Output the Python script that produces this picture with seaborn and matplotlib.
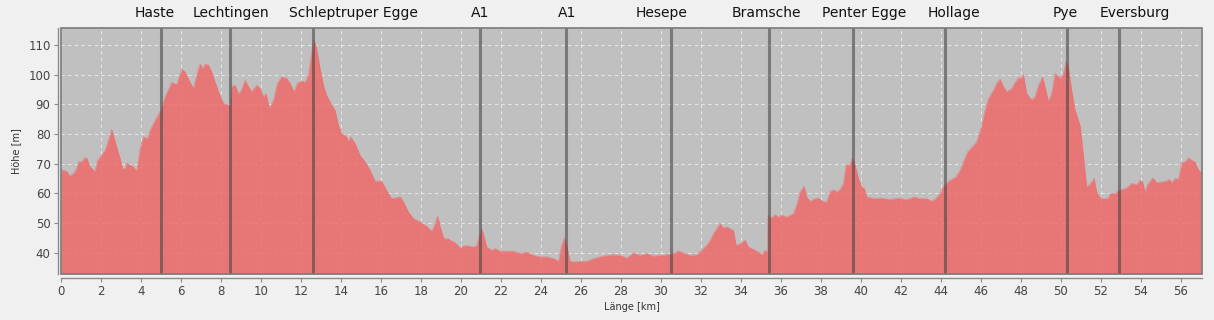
import matplotlib
matplotlib.use("Agg")
import matplotlib.pyplot as plt
import matplotlib.transforms as mtransforms
from matplotlib.patches import Rectangle
import seaborn as sns
import pandas as pd

# ---- data ----
distance_km = [
    0.0, 0.28, 0.42, 0.62, 0.78, 0.87, 1.03, 1.2, 1.28, 1.45, 1.7, 1.82, 2.03, 2.2, 2.37, 2.53,
    2.78, 2.95, 3.08, 3.2, 3.28, 3.45, 3.62, 3.78, 3.95, 4.12, 4.32, 4.45, 4.7, 4.95, 5.2, 5.53,
    5.78, 6.03, 6.2, 6.45,
    6.62, 6.78, 6.95, 7.08, 7.2, 7.37, 7.53, 7.7, 7.87, 8.12, 8.32, 8.45, 8.53, 8.7, 8.87, 8.98,
    9.2, 9.37, 9.53, 9.78, 9.95, 10.12, 10.25, 10.42, 10.62, 10.82, 11.03, 11.28, 11.45, 11.65,
    11.82, 12.03, 12.2, 12.37, 12.53, 12.65, 12.78,
    12.95, 13.12, 13.28, 13.53, 13.7, 13.87, 14.03, 14.28, 14.37, 14.48, 14.7, 14.95, 15.2, 15.45,
    15.7, 16.03, 16.28, 16.53, 16.95, 17.12, 17.37, 17.62, 17.95, 18.28, 18.53, 18.7, 18.83,
    18.98, 19.15, 19.37,
    19.45, 19.7, 19.95, 20.12, 20.37, 20.62, 20.78, 20.92, 21.0, 21.12, 21.28, 21.53, 21.7,
    21.95, 22.28, 22.62, 22.95, 23.28, 23.62, 23.95, 24.28, 24.62, 24.87, 25.03, 25.17, 25.28,
    25.45, 25.7,
    25.95, 26.28, 26.62, 26.95, 27.28, 27.62, 27.95, 28.28, 28.62, 28.95, 29.28, 29.62, 29.95,
    30.28, 30.62, 30.87, 31.2, 31.45, 31.78, 32.03, 32.28,
    32.45, 32.62, 32.78, 32.95, 33.12, 33.28, 33.45, 33.62, 33.75, 33.95, 34.2, 34.37, 34.62,
    34.87, 35.03, 35.2, 35.32, 35.35, 35.53, 35.7, 35.87, 36.03, 36.28, 36.62, 36.78, 36.95,
    37.15, 37.28, 37.45, 37.7, 37.87, 38.12, 38.28, 38.45, 38.62, 38.78,
    38.95, 39.12, 39.25, 39.42, 39.58, 39.7, 39.87, 40.03, 40.15, 40.28, 40.53, 40.7, 40.95,
    41.2, 41.45, 41.7, 41.95, 42.2, 42.45, 42.65, 42.95, 43.28, 43.53, 43.7, 43.95, 44.15,
    44.45, 44.75, 44.95, 45.15, 45.32,
    45.45, 45.78, 46.03, 46.2, 46.37, 46.62, 46.78, 46.95, 47.12, 47.28, 47.53, 47.7, 47.87,
    47.98, 48.12, 48.28, 48.53, 48.7, 48.87, 49.08, 49.2, 49.37, 49.53, 49.7, 49.95, 50.12,
    50.25, 50.37, 50.53, 50.7, 50.95, 51.12, 51.28, 51.48, 51.65, 51.78,
    51.95, 52.12, 52.37, 52.45, 52.7, 52.87, 53.03, 53.28, 53.53, 53.78, 53.95, 54.08, 54.2,
    54.32, 54.58, 54.78, 55.03, 55.28, 55.4, 55.53, 55.7, 55.87, 56.03, 56.2, 56.37, 56.53,
    56.7, 56.87, 57.05,
]
elevation_m = [
    68.0, 67.5, 66.0, 66.7, 68.4, 70.7, 70.7, 72.1, 72.0, 69.0, 67.5, 71.2, 72.9, 74.6, 78.0, 81.7,
    75.7, 71.8, 68.4, 68.4, 70.3, 69.6, 69.0, 67.6, 75.2, 79.1, 78.5, 81.3, 84.7, 87.5, 92.6, 97.4,
    96.7, 101.8, 101.0, 97.4,
    95.4, 99.9, 103.8, 102.1, 103.5, 103.3, 101.0, 97.6, 94.3, 90.3, 89.8, 89.8, 96.0, 96.5, 93.7,
    94.3, 98.2, 96.0, 94.3, 96.5, 95.4, 92.6, 93.7, 88.7, 91.5, 97.1, 99.3, 98.8, 97.1, 94.3,
    97.1, 97.9, 97.4, 99.9, 107.8, 111.7, 108.9,
    102.1, 96.5, 93.1, 89.8, 88.1, 83.0, 80.2, 79.1, 77.6, 79.1, 76.9, 72.9, 70.7, 67.9,
    64.2, 64.2, 61.1, 58.3, 58.9, 57.2, 53.8, 51.6, 50.4, 49.0, 47.3, 49.9, 52.5,
    48.2, 44.8, 44.8,
    44.3, 43.5, 41.7, 42.4, 42.4, 42.0, 42.4, 46.0, 48.4, 46.5, 42.0, 40.9, 41.5,
    40.6, 40.6, 40.6, 39.8, 40.3, 39.2, 38.7, 38.7, 38.1, 37.2, 42.6, 45.1, 42.6,
    37.2, 37.0,
    37.2, 37.2, 38.1, 38.7, 39.2, 39.4, 39.2, 38.3, 40.0, 39.2, 39.8, 39.0, 39.2,
    39.4, 39.8, 40.7, 39.8, 39.2, 39.4, 40.9, 42.6,
    44.3, 46.5, 48.2, 49.9, 48.4, 48.8, 48.2, 47.6, 42.6, 43.1, 44.3, 42.0, 41.2,
    40.3, 39.4, 40.9, 40.3, 52.7, 51.8, 52.9, 52.1, 52.7, 52.1, 53.3, 56.1, 60.6,
    62.5, 58.9, 57.4, 58.3, 58.5, 57.2, 57.2, 60.6, 61.3, 60.6,
    61.4, 63.4, 69.6, 69.6, 72.0, 69.6, 65.1, 62.2, 61.9, 58.9, 58.5, 58.3, 58.5,
    58.3, 58.0, 58.3, 58.5, 58.0, 58.3, 58.9, 58.3, 58.3, 57.4, 58.1, 60.0, 62.8,
    64.5, 65.6, 67.9, 71.2, 74.0,
    74.9, 77.4, 83.0, 88.1, 92.0, 94.8, 97.1, 98.5, 96.0, 94.3, 95.4, 97.4, 99.0,
    98.8, 100.1, 93.7, 91.5, 92.6, 96.5, 99.3, 96.0, 91.1, 93.7, 100.4, 98.8, 100.4,
    104.4, 102.7, 94.8, 88.1, 83.0, 72.9, 62.2, 63.4, 65.1, 60.6,
    58.6, 58.3, 58.5, 60.0, 60.0, 61.1, 61.3, 61.9, 63.4, 63.0, 64.5, 63.9, 60.6,
    63.0, 65.3, 63.7, 63.9, 64.2, 64.8, 63.7, 65.1, 64.8, 70.4, 70.7, 72.0, 71.2,
    70.7, 67.9, 67.0,
]
poi_names = ["Haste", "Lechtingen", "Schleptruper Egge", "A1", "A1", "Hesepe",
             "Bramsche", "Penter Egge", "Hollage", "Pye", "Eversburg"]
poi_km = [5.0, 8.45, 12.6, 20.95, 25.25, 30.5, 35.4, 39.6, 44.2, 50.3, 52.9]
y_ticks = [40, 50, 60, 70, 80, 90, 100, 110]
x_ticks = list(range(0, 57, 2))

# layout: where the POI captions sit (shifted to avoid overlaps, as in the original)
caption_x_km = [4.7, 8.5, 14.6, 20.95, 25.3, 30.05, 35.25, 40.15, 44.65, 50.2, 53.7]

df = pd.DataFrame({"km": distance_km, "hoehe": elevation_m})

sns.set_style("white")
plt.rcParams["font.family"] = ["DejaVu Sans"]

W, H = 1214, 320
fig = plt.figure(figsize=(W / 100, H / 100), dpi=100)
fig.patch.set_facecolor("#f0f0f0")
L, R, T, B = 61, 1202, 28, 274
ax = fig.add_axes([L / W, 1 - B / H, (R - L) / W, (B - T) / H])
ax.set_facecolor("#c0c0c0")

xmin, xmax = 0, 57.05
ymin, ymax = 32.9, 115.7
fill_col = "#ef6b6b"

ax.grid(True, color="white", alpha=0.6, lw=0.8, ls=(0, (3, 3)), zorder=0)
ax.set_axisbelow(True)

ax.fill_between(df["km"], df["hoehe"], ymin, color=fill_col, alpha=0.85, lw=0, zorder=1)
sns.lineplot(data=df, x="km", y="hoehe", ax=ax, color=fill_col, alpha=0.6, lw=0.5, zorder=2)

ax.set_xlim(xmin, xmax)
ax.set_ylim(ymin, ymax)
ax.set_xticks(x_ticks)
ax.set_yticks(y_ticks)

for k in poi_km:
    ax.axvline(k, color="#404040", alpha=0.55, lw=2.2, zorder=4)

trans = mtransforms.blended_transform_factory(ax.transData, ax.transAxes)
for name, cx in zip(poi_names, caption_x_km):
    ax.text(cx, 1.061, name, transform=trans, ha="center", va="center",
            fontsize=10, color="#111111", clip_on=False)

# plot-area outline
ax.add_patch(Rectangle((0, 0), 1, 1, transform=ax.transAxes, fill=False,
                       edgecolor="#7a7a7a", lw=1.2, zorder=6, clip_on=False))
for s in ["top", "right"]:
    ax.spines[s].set_visible(False)
ax.spines["left"].set_position(("outward", 2.5))
ax.spines["bottom"].set_position(("outward", 3))
for s in ["left", "bottom"]:
    ax.spines[s].set_color("#8a8a8a")
    ax.spines[s].set_linewidth(1.0)

ax.tick_params(axis="both", which="major", direction="out", length=3, width=0.8,
               color="#8a8a8a", labelcolor="#444444", labelsize=8.5, pad=2)
ax.xaxis.set_ticks_position("bottom")
ax.yaxis.set_ticks_position("left")

ax.set_xlabel("Länge [km]", fontsize=7, color="#333333", labelpad=3)
ax.set_ylabel("Höhe [m]", fontsize=7, color="#333333", labelpad=5)

fig.savefig("out.png", dpi=100, facecolor=fig.get_facecolor())
